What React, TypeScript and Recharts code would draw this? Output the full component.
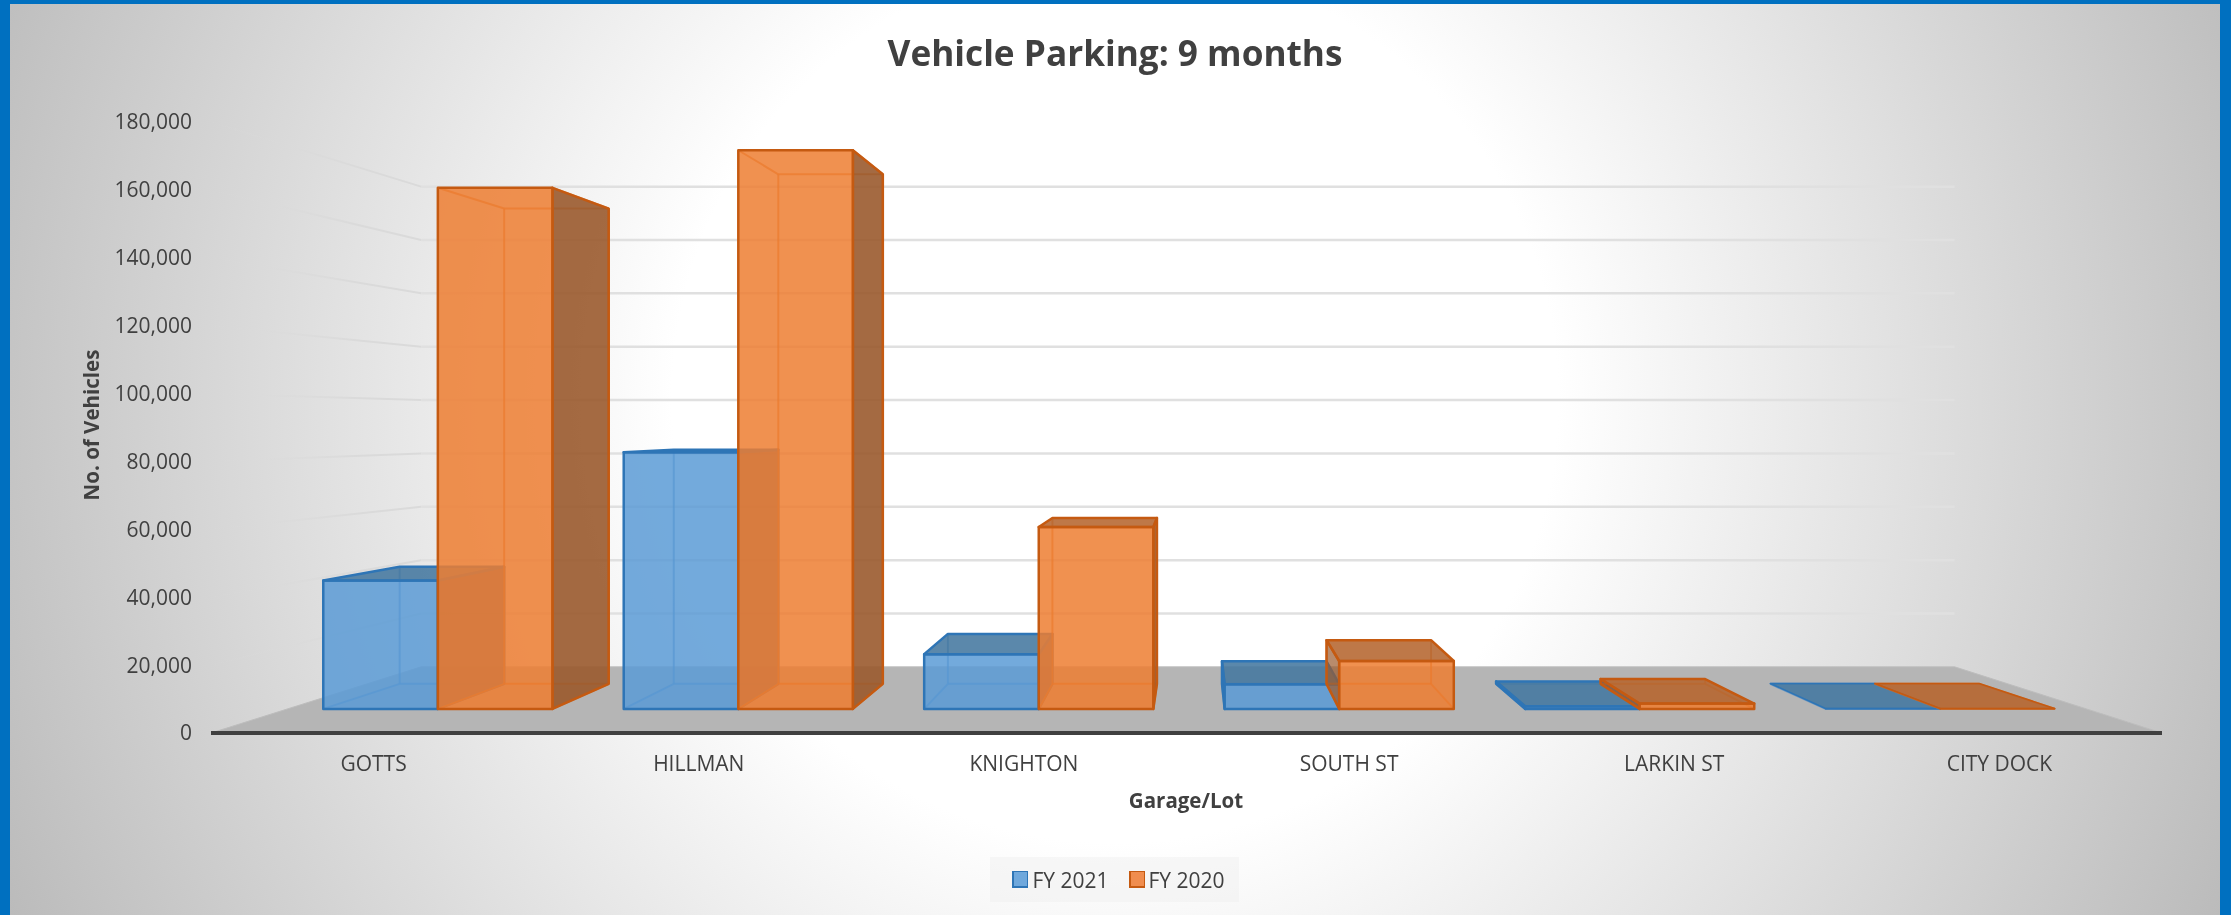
import React from "react";
import { BarChart, Bar, XAxis, YAxis, CartesianGrid, Legend } from "recharts";

const categories = ["GOTTS", "HILLMAN", "KNIGHTON", "SOUTH ST", "LARKIN ST", "CITY DOCK"];
const fy2021 = [41000, 82000, 17500, 7900, 850, 120];
const fy2020 = [166500, 178500, 58100, 15300, 1700, 120];
const yTicks = [0, 20000, 40000, 60000, 80000, 100000, 120000, 140000, 160000, 180000];
const seriesOrder = ["FY 2021", "FY 2020"];

const data = categories.map((name, i) => ({ name, fy2021: fy2021[i], fy2020: fy2020[i] }));

const W = 2231;
const H = 915;
const VP = { x: 1193, y: 424 };
const S_FRONT = 0.922;
const S_BACK = 0.841;
const S_WALL = 0.786;
const FONT = '"Open Sans", sans-serif';
const TEXT = "#404040";

const pj = (x: number, y: number, s: number) => [VP.x + s * (x - VP.x), VP.y + s * (y - VP.y)];
// bars sit a touch wider than the floor in the reference
const pb = (x: number, y: number, s: number) => [VP.x + (s + 0.002) * (x - VP.x) + 1.6, VP.y + s * (y - VP.y)];
const poly = (pts: number[][]) => pts.map((p) => p.join(",")).join(" ");

const BLUE = { front: "#5B9BD5", side: "#4C6480", top: "#44779F", edge: "#2E75B6", inner: "#4F8CC6" };
const ORANGE = { front: "#ED7D31", side: "#9A5A2E", top: "#B5652F", edge: "#C55A11", inner: "#E2711F" };

function Box3D(props: any) {
  const { x, y, width, height, pal } = props;
  const l = x, r = x + width, t = y, b = y + height;
  const ftl = pb(l, t, S_FRONT), ftr = pb(r, t, S_FRONT), fbl = pb(l, b, S_FRONT), fbr = pb(r, b, S_FRONT);
  const btl = pb(l, t, S_BACK), btr = pb(r, t, S_BACK), bbl = pb(l, b, S_BACK), bbr = pb(r, b, S_BACK);
  const rightVisible = r < VP.x;
  const leftVisible = l > VP.x;
  const topVisible = t > VP.y;
  const flat = height < 1;
  const sw = flat ? 1.5 : 2.5;

  const line = (a: number[], c: number[], key: string) => (
    <line key={key} x1={a[0]} y1={a[1]} x2={c[0]} y2={c[1]} stroke={pal.inner} strokeWidth={2} strokeOpacity={0.7} />
  );

  return (
    <g>
      <polygon points={poly([ftl, ftr, fbr, fbl])} fill={pal.front} fillOpacity={0.4} />
      <polygon points={poly([fbl, fbr, bbr, bbl])} fill={pal.front} fillOpacity={0.1} />
      {!flat && line(btl, bbl, "a")}
      {!flat && line(btr, bbr, "b")}
      {line(bbl, bbr, "c")}
      {line(fbl, bbl, "d")}
      {line(fbr, bbr, "e")}
      {!topVisible && line(ftl, btl, "f")}
      {!topVisible && line(ftr, btr, "f2")}
      {!topVisible && line(btl, btr, "g")}

      {rightVisible && !flat && (
        <polygon points={poly([ftr, btr, bbr, fbr])} fill={pal.side} fillOpacity={0.9} stroke={pal.edge} strokeWidth={sw} strokeLinejoin="round" />
      )}
      {leftVisible && !flat && (
        <polygon points={poly([ftl, btl, bbl, fbl])} fill={pal.side} fillOpacity={0.7} stroke={pal.edge} strokeWidth={sw} strokeLinejoin="round" />
      )}
      <polygon points={poly([ftl, ftr, fbr, fbl])} fill={pal.front} fillOpacity={0.75} stroke={pal.edge} strokeWidth={sw} strokeLinejoin="round" />
      {topVisible && (
        <polygon points={poly([ftl, ftr, btr, btl])} fill={pal.top} fillOpacity={0.88} stroke={pal.edge} strokeWidth={sw} strokeLinejoin="round" />
      )}
    </g>
  );
}

function gridLine(props: any) {
  const { x1, x2, y1, index } = props;
  const isBase = y1 > 730;
  const fl = pj(x1, y1, 1);
  const bl = pj(x1, y1, S_WALL);
  const br = pj(x2, y1, S_WALL);
  const fr = pj(x2, y1, 1);
  if (isBase) {
    return <polygon key={`g${index}`} points={poly([fl, fr, br, bl])} fill="#B5B5B5" stroke="#BDBDBD" strokeWidth={1} />;
  }
  return (
    <g key={`g${index}`}>
      <line x1={fl[0]} y1={fl[1]} x2={bl[0]} y2={bl[1]} stroke="url(#wallFade)" strokeWidth={2} />
      <line x1={bl[0]} y1={bl[1]} x2={br[0]} y2={br[1]} stroke="#E0E0E0" strokeWidth={2.5} />
    </g>
  );
}

function LegendBox(props: any) {
  const items = [...(props.payload || [])].sort(
    (a: any, c: any) => seriesOrder.indexOf(a.value) - seriesOrder.indexOf(c.value)
  );
  const edges: Record<string, string> = { "FY 2021": BLUE.edge, "FY 2020": ORANGE.edge };
  const fills: Record<string, string> = { "FY 2021": "#6FA8DC", "FY 2020": "#F08D4E" };
  return (
    <div
      style={{
        display: "flex",
        alignItems: "center",
        justifyContent: "center",
        boxSizing: "border-box",
        paddingLeft: 8,
        gap: 20,
        width: 249,
        height: 45,
        background: "rgba(240,240,240,0.55)",
        fontFamily: FONT,
        fontSize: 21,
        color: TEXT,
      }}
    >
      {items.map((it: any) => (
        <div key={it.value} style={{ display: "flex", alignItems: "center", gap: 4 }}>
          <span
            style={{
              display: "inline-block",
              width: 13,
              height: 14,
              background: fills[it.value],
              border: `2px solid ${edges[it.value]}`,
              borderTopWidth: 1,
              borderRightWidth: 1,
            }}
          />
          <span>{it.value}</span>
        </div>
      ))}
    </div>
  );
}

export default function App() {
  return (
    <div
      style={{
        position: "fixed",
        left: 0,
        top: 0,
        width: W,
        height: H,
        overflow: "hidden",
        background: "radial-gradient(circle 1230px at 1115px 400px, #ffffff 36%, #bababa 100%)",
      }}
    >
      <div style={{ position: "absolute", left: 0, top: 0, width: 10, height: H, background: "#0070C0" }} />
      <div style={{ position: "absolute", right: 0, top: 0, width: 11, height: H, background: "#0070C0" }} />
      <div style={{ position: "absolute", left: 0, top: 0, width: W, height: 4, background: "#0070C0" }} />
      <BarChart
        width={W}
        height={H}
        data={data}
        margin={{ top: 122, right: W - 2162, bottom: 0, left: 0 }}
        barSize={124}
        barGap={0}
        style={{ position: "absolute", left: 0, top: 0 }}
      >
        <defs>
          <linearGradient id="wallFade" gradientUnits="userSpaceOnUse" x1={211} y1={0} x2={421} y2={0}>
            <stop offset="0%" stopColor="#DADADA" stopOpacity={0} />
            <stop offset="25%" stopColor="#DADADA" stopOpacity={0.25} />
            <stop offset="70%" stopColor="#DADADA" stopOpacity={1} />
          </linearGradient>
        </defs>
        <CartesianGrid vertical={false} horizontal={gridLine as any} syncWithTicks />
        <XAxis
          dataKey="name"
          height={182}
          tickLine={false}
          tickSize={0}
          tickMargin={23}
          interval={0}
          axisLine={{ stroke: "#404040", strokeWidth: 4 }}
          tick={{ fill: TEXT, fontFamily: FONT, fontSize: 21 }}
        />
        <YAxis
          width={211}
          domain={[0, 180000]}
          ticks={yTicks}
          interval={0}
          tickLine={false}
          axisLine={false}
          tickSize={0}
          tickMargin={19}
          tickFormatter={(v: number) => v.toLocaleString("en-US")}
          tick={{ fill: TEXT, fontFamily: FONT, fontSize: 21 }}
        />
        <Legend
          layout="horizontal"
          verticalAlign="middle"
          align="center"
          content={<LegendBox />}
          wrapperStyle={{ position: "absolute", left: 990, top: 857, width: 249, height: 45 }}
        />
        <Bar dataKey="fy2021" name="FY 2021" fill={BLUE.front} isAnimationActive={false} shape={(p: any) => <Box3D {...p} pal={BLUE} />} />
        <Bar dataKey="fy2020" name="FY 2020" fill={ORANGE.front} isAnimationActive={false} shape={(p: any) => <Box3D {...p} pal={ORANGE} />} />
        <text x={1115} y={66} textAnchor="middle" fontFamily={FONT} fontWeight={700} fontSize={35.2} fill={TEXT}>
          Vehicle Parking: 9 months
        </text>
        <text x={1186} y={808} textAnchor="middle" fontFamily={FONT} fontWeight={700} fontSize={20.5} fill={TEXT}>
          Garage/Lot
        </text>
        <text transform="translate(99 425) rotate(-90)" textAnchor="middle" fontFamily={FONT} fontWeight={700} fontSize={20.5} fill={TEXT}>
          No. of Vehicles
        </text>
      </BarChart>
    </div>
  );
}
